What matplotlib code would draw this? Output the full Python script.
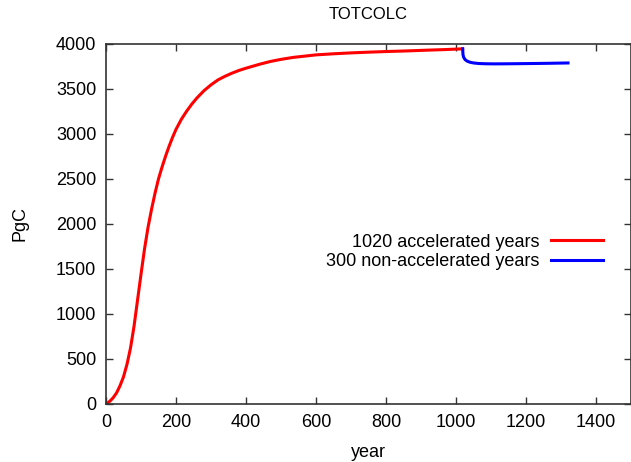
import matplotlib
matplotlib.use("Agg")
import matplotlib.pyplot as plt

plt.rcParams['font.family'] = ['Liberation Sans', 'DejaVu Sans']

# accelerated spin-up (red)
acc_years = [0, 10, 20, 30, 40, 50, 60, 70, 80, 90, 100, 110, 120, 130, 140, 150, 160,
             170, 180, 190, 200, 215, 230, 245, 260, 280, 300, 320, 340, 360, 380,
             400, 440, 470, 500, 535, 570, 600, 650, 700, 750, 800, 860, 916, 970, 1019]
acc_totcolc = [0, 25, 65, 120, 200, 300, 440, 620, 860, 1150, 1440, 1720, 1960, 2160,
               2340, 2500, 2630, 2750, 2860, 2960, 3050, 3160, 3250, 3330, 3400, 3480,
               3545, 3600, 3640, 3675, 3705, 3730, 3775, 3805, 3828, 3850, 3865,
               3878, 3890, 3900, 3908, 3915, 3922, 3930, 3937, 3945]

# non-accelerated continuation (blue)
nacc_years = [1019, 1020, 1022, 1026, 1032, 1040, 1050, 1065, 1085, 1110, 1150, 1200,
              1260, 1320]
nacc_totcolc = [3945, 3880, 3850, 3825, 3808, 3796, 3788, 3782, 3779, 3778, 3779, 3781,
                3784, 3788]

fig = plt.figure(figsize=(6.31, 4.62), dpi=100)
ax = fig.add_axes([0.168, 0.126, 0.832, 0.779])

ax.plot(acc_years, acc_totcolc, color="red", linewidth=2.2, label="1020 accelerated years")
ax.plot(nacc_years, nacc_totcolc, color="blue", linewidth=2.2, label="300 non-accelerated years")

ax.set_xlim(0, 1500)
ax.set_ylim(0, 4000)
ax.set_xticks(range(0, 1401, 200))
ax.set_yticks(range(0, 4001, 500))
ax.tick_params(direction="in", length=5, width=1, top=True, right=True,
               labelsize=13, pad=7, colors="#333333", labelcolor="black")
for s in ax.spines.values():
    s.set_linewidth(1.2)
    s.set_color("#333333")

ax.set_title("TOTCOLC", fontsize=12, pad=18)
ax.set_xlabel("year", fontsize=13, labelpad=10)
ax.set_ylabel("PgC", fontsize=13, labelpad=20)

ax.legend(loc="center right", bbox_to_anchor=(0.947, 0.422), frameon=False,
          markerfirst=False, fontsize=13, handlelength=2.9, handletextpad=0.65,
          labelspacing=0.15, borderpad=0, borderaxespad=0)

fig.savefig("out.png", dpi=100)
